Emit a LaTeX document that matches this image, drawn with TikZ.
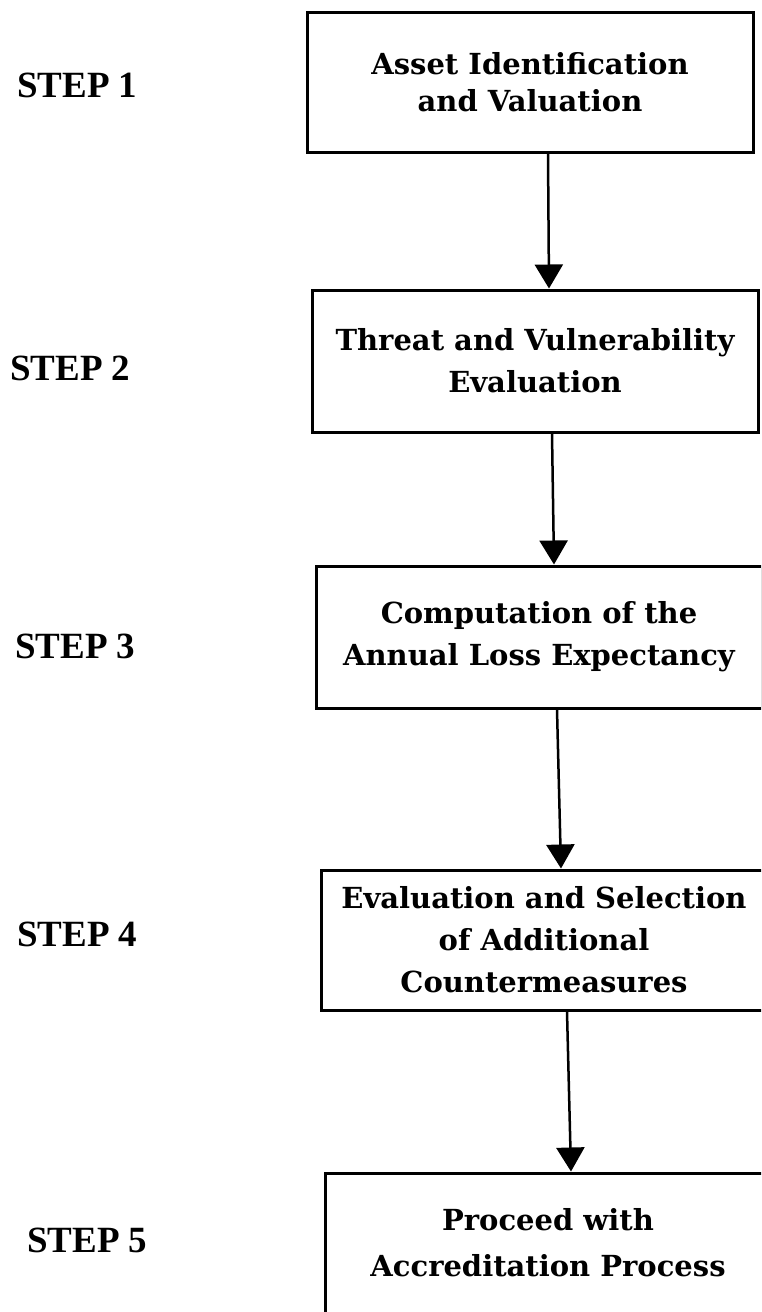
\documentclass[tikz,border=0pt]{standalone}
\usepackage{fontspec}
\setmainfont{DejaVu Serif}
\newfontfamily\stepfont{Liberation Serif}
\usetikzlibrary{arrows.meta}
\tikzset{
  stepbox/.style={draw, line width=3pt, minimum width=446pt, minimum height=140pt,
    inner sep=0pt, align=center, font=\fontsize{29}{42}\selectfont\bfseries},
  steplabel/.style={anchor=west, inner sep=0pt, font=\stepfont\fontsize{37}{40}\selectfont\bfseries},
  arr/.style={line width=2.5pt, -{Triangle[width=28pt,length=24pt]}}
}
\begin{document}
\begin{tikzpicture}[x=1pt,y=-1pt]
\useasboundingbox (0,0) rectangle (761,1312);
\clip (0,0) rectangle (761,1312);
\node[stepbox, font=\fontsize{29}{37}\selectfont\bfseries] (b1) at (530,82) {Asset Identification\\and Valuation};
\node[stepbox, minimum height=142pt] (b2) at (535,361) {Threat and Vulnerability\\Evaluation};
\node[stepbox, minimum height=142pt] (b3) at (539,637) {Computation of the\\Annual Loss Expectancy};
\node[stepbox] (b4) at (544,940) {Evaluation and Selection\\of Additional\\Countermeasures};
\node[stepbox, font=\fontsize{29}{46}\selectfont\bfseries] (b5) at (548,1243) {Proceed with\\Accreditation Process};

\node[steplabel] (s1) at (17,85) {STEP 1};
\node[steplabel] (s2) at (10,368) {STEP 2};
\node[steplabel] (s3) at (15,646) {STEP 3};
\node[steplabel] (s4) at (17,934) {STEP 4};
\node[steplabel] (s5) at (27,1240) {STEP 5};

\draw[arr] (548,0 |- b1.south) -- (549,0 |- b2.north);
\draw[arr] (552,0 |- b2.south) -- (554,0 |- b3.north);
\draw[arr] (557,0 |- b3.south) -- (561,0 |- b4.north);
\draw[arr] (567,0 |- b4.south) -- (571,0 |- b5.north);
\end{tikzpicture}
\end{document}
